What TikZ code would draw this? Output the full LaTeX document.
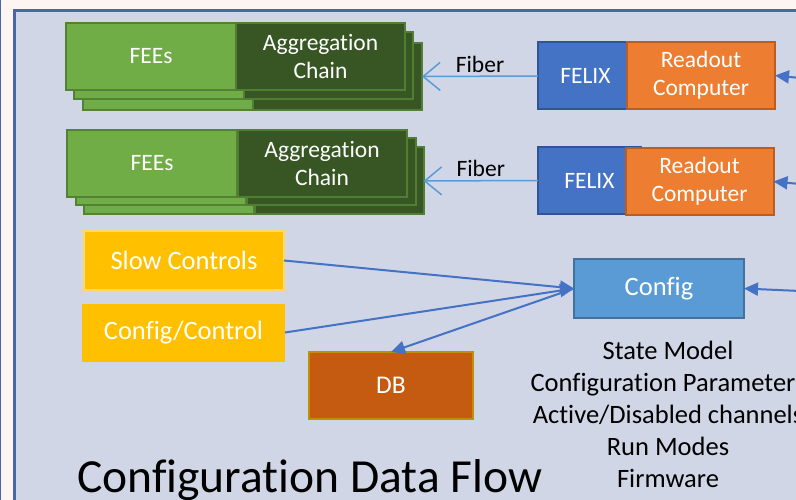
\documentclass[tikz,border=0pt]{standalone}
\usepackage{fontspec}
\setmainfont{Carlito}[Ligatures=NoCommon]
\usepackage{tikz}
\usepackage{xcolor}
\usetikzlibrary{shapes, positioning, arrows.meta}

\definecolor{pagebg}{HTML}{FDF5F2}
\definecolor{panelbg}{HTML}{D0D6E6}
\definecolor{panelline}{HTML}{4A66A6}
\definecolor{feegreen}{HTML}{70AD47}
\definecolor{feeline}{HTML}{548235}
\definecolor{agggreen}{HTML}{375623}
\definecolor{aggline}{HTML}{507E32}
\definecolor{felixblue}{HTML}{4472C4}
\definecolor{felixline}{HTML}{2F5597}
\definecolor{readorange}{HTML}{ED7D31}
\definecolor{readline}{HTML}{B85E22}
\definecolor{slowyellow}{HTML}{FFC000}
\definecolor{slowline}{HTML}{FFD966}
\definecolor{dbfill}{HTML}{C55A11}
\definecolor{dbline}{HTML}{BF9000}
\definecolor{cfgblue}{HTML}{5B9BD5}
\definecolor{cfgline}{HTML}{41719C}
\definecolor{fiberblue}{HTML}{5B9BD5}
\definecolor{flowblue}{HTML}{4472C4}

\begin{document}
\begin{tikzpicture}[x=1pt, y=-1pt,
    box/.style={inner sep=0pt, outer sep=0pt, line width=2pt, text=white, align=center},
    fee/.style={box, fill=feegreen, draw=feeline, minimum width=170pt, minimum height=67pt, font=\fontsize{23.5}{28}\selectfont},
    agg/.style={box, fill=agggreen, draw=aggline, minimum width=169pt, minimum height=67pt, font=\fontsize{23.5}{28}\selectfont},
    felix/.style={box, fill=felixblue, draw=felixline, minimum height=67pt, font=\fontsize{23.5}{28}\selectfont},
    readout/.style={box, fill=readorange, draw=readline, minimum width=148pt, minimum height=67pt, font=\fontsize{23.5}{28}\selectfont},
    slow/.style={box, fill=slowyellow, minimum height=58pt, font=\fontsize{26.5}{30}\selectfont},
    dbbox/.style={box, fill=dbfill, draw=dbline, minimum width=164pt, minimum height=67pt, font=\fontsize{25.5}{30}\selectfont},
    cfgbox/.style={box, fill=cfgblue, draw=cfgline, minimum width=170pt, minimum height=59pt, font=\fontsize{26.5}{30}\selectfont},
    fiber/.style={draw=fiberblue, line width=1.5pt, -{Straight Barb[length=17pt, width=28pt]}},
    flow/.style={draw=flowblue, line width=2pt, -{Triangle[length=14pt, width=13pt]}}
  ]
    \useasboundingbox (0,0) rectangle (796,500);
    \clip (0,0) rectangle (796,500);

    % slide background and frame
    \fill[pagebg] (0,0) rectangle (796,500);
    \draw[panelline, line width=1.5pt] (0.7,-5) -- (0.7,510);
    \draw[panelline, fill=panelbg, line width=3pt] (14.5,10.5) rectangle (830,530);

    % first FEE stack
    \node[fee] (fees1c) at (168, 76.5) {};
    \node[agg] (agg1c) at (337.5, 76.5) {};
    \node[fee] (fees1b) at (159, 65.5) {};
    \node[agg] (agg1b) at (328.5, 65.5) {};
    \node[fee] (fees1) at (151, 56.5) {FEEs};
    \node[agg] (agg1) at (320.5, 56.5) {Aggregation\\Chain};

    % second FEE stack
    \node[fee] (fees2c) at (169, 181) {};
    \node[agg] (agg2c) at (339, 181) {};
    \node[fee] (fees2b) at (161, 172) {};
    \node[agg] (agg2b) at (331, 172) {};
    \node[fee] (fees2) at (152, 163.5) {FEEs};
    \node[agg] (agg2) at (322, 163.5) {Aggregation\\Chain};

    % readout side
    \node[felix, minimum width=95pt] (felix1) at (585.5, 76) {FELIX};
    \node[readout] (ro1) at (701, 75.5) {Readout\\Computer};
    \node[felix, minimum width=103pt] (felix2) at (589.5, 180.5) {FELIX};
    \node[readout] (ro2) at (699.5, 181.5) {Readout\\Computer};

    % configuration side
    \node[slow, draw=slowline, minimum width=200pt] (slow) at (184, 260.5) {Slow Controls};
    \node[slow, minimum width=203pt] (cfgctl) at (183.5, 332.5) {Config/Control};
    \node[dbbox] (db) at (391, 385.5) {DB};
    \node[cfgbox] (config) at (659, 288.5) {Config};

    \node[align=center, inner sep=0pt, anchor=north, font=\fontsize{26.5}{32}\selectfont] (cfgnotes) at (668, 341) {State Model\\Configuration Parameters\\Active/Disabled channels\\Run Modes\\Firmware};
    \node[anchor=base west, inner sep=0pt, font=\fontsize{47.5}{56}\selectfont] (title) at (77, 492) {Configuration Data Flow};

    % off-slide ends
    \coordinate (ext1) at (800, 78);
    \coordinate (ext2) at (800, 184);
    \coordinate (ext3) at (800, 291);

    \draw[fiber] (felix1.west) -- node[above, font=\fontsize{23.5}{28}\selectfont] {Fiber} (agg1c.east);
    \draw[fiber] (felix2.west) -- node[above, font=\fontsize{23.5}{28}\selectfont] {Fiber} (agg2c.east);
    \draw[flow] (ext1) -- (ro1.east);
    \draw[flow] (ext2) -- (ro2.east);
    \draw[flow] (ext3) -- (config.east);
    \draw[flow] (slow.east) -- (config.west);
    \draw[flow] (cfgctl.east) -- (config.west);
    \draw[flow] (config.west) -- (db.north);
\end{tikzpicture}
\end{document}
